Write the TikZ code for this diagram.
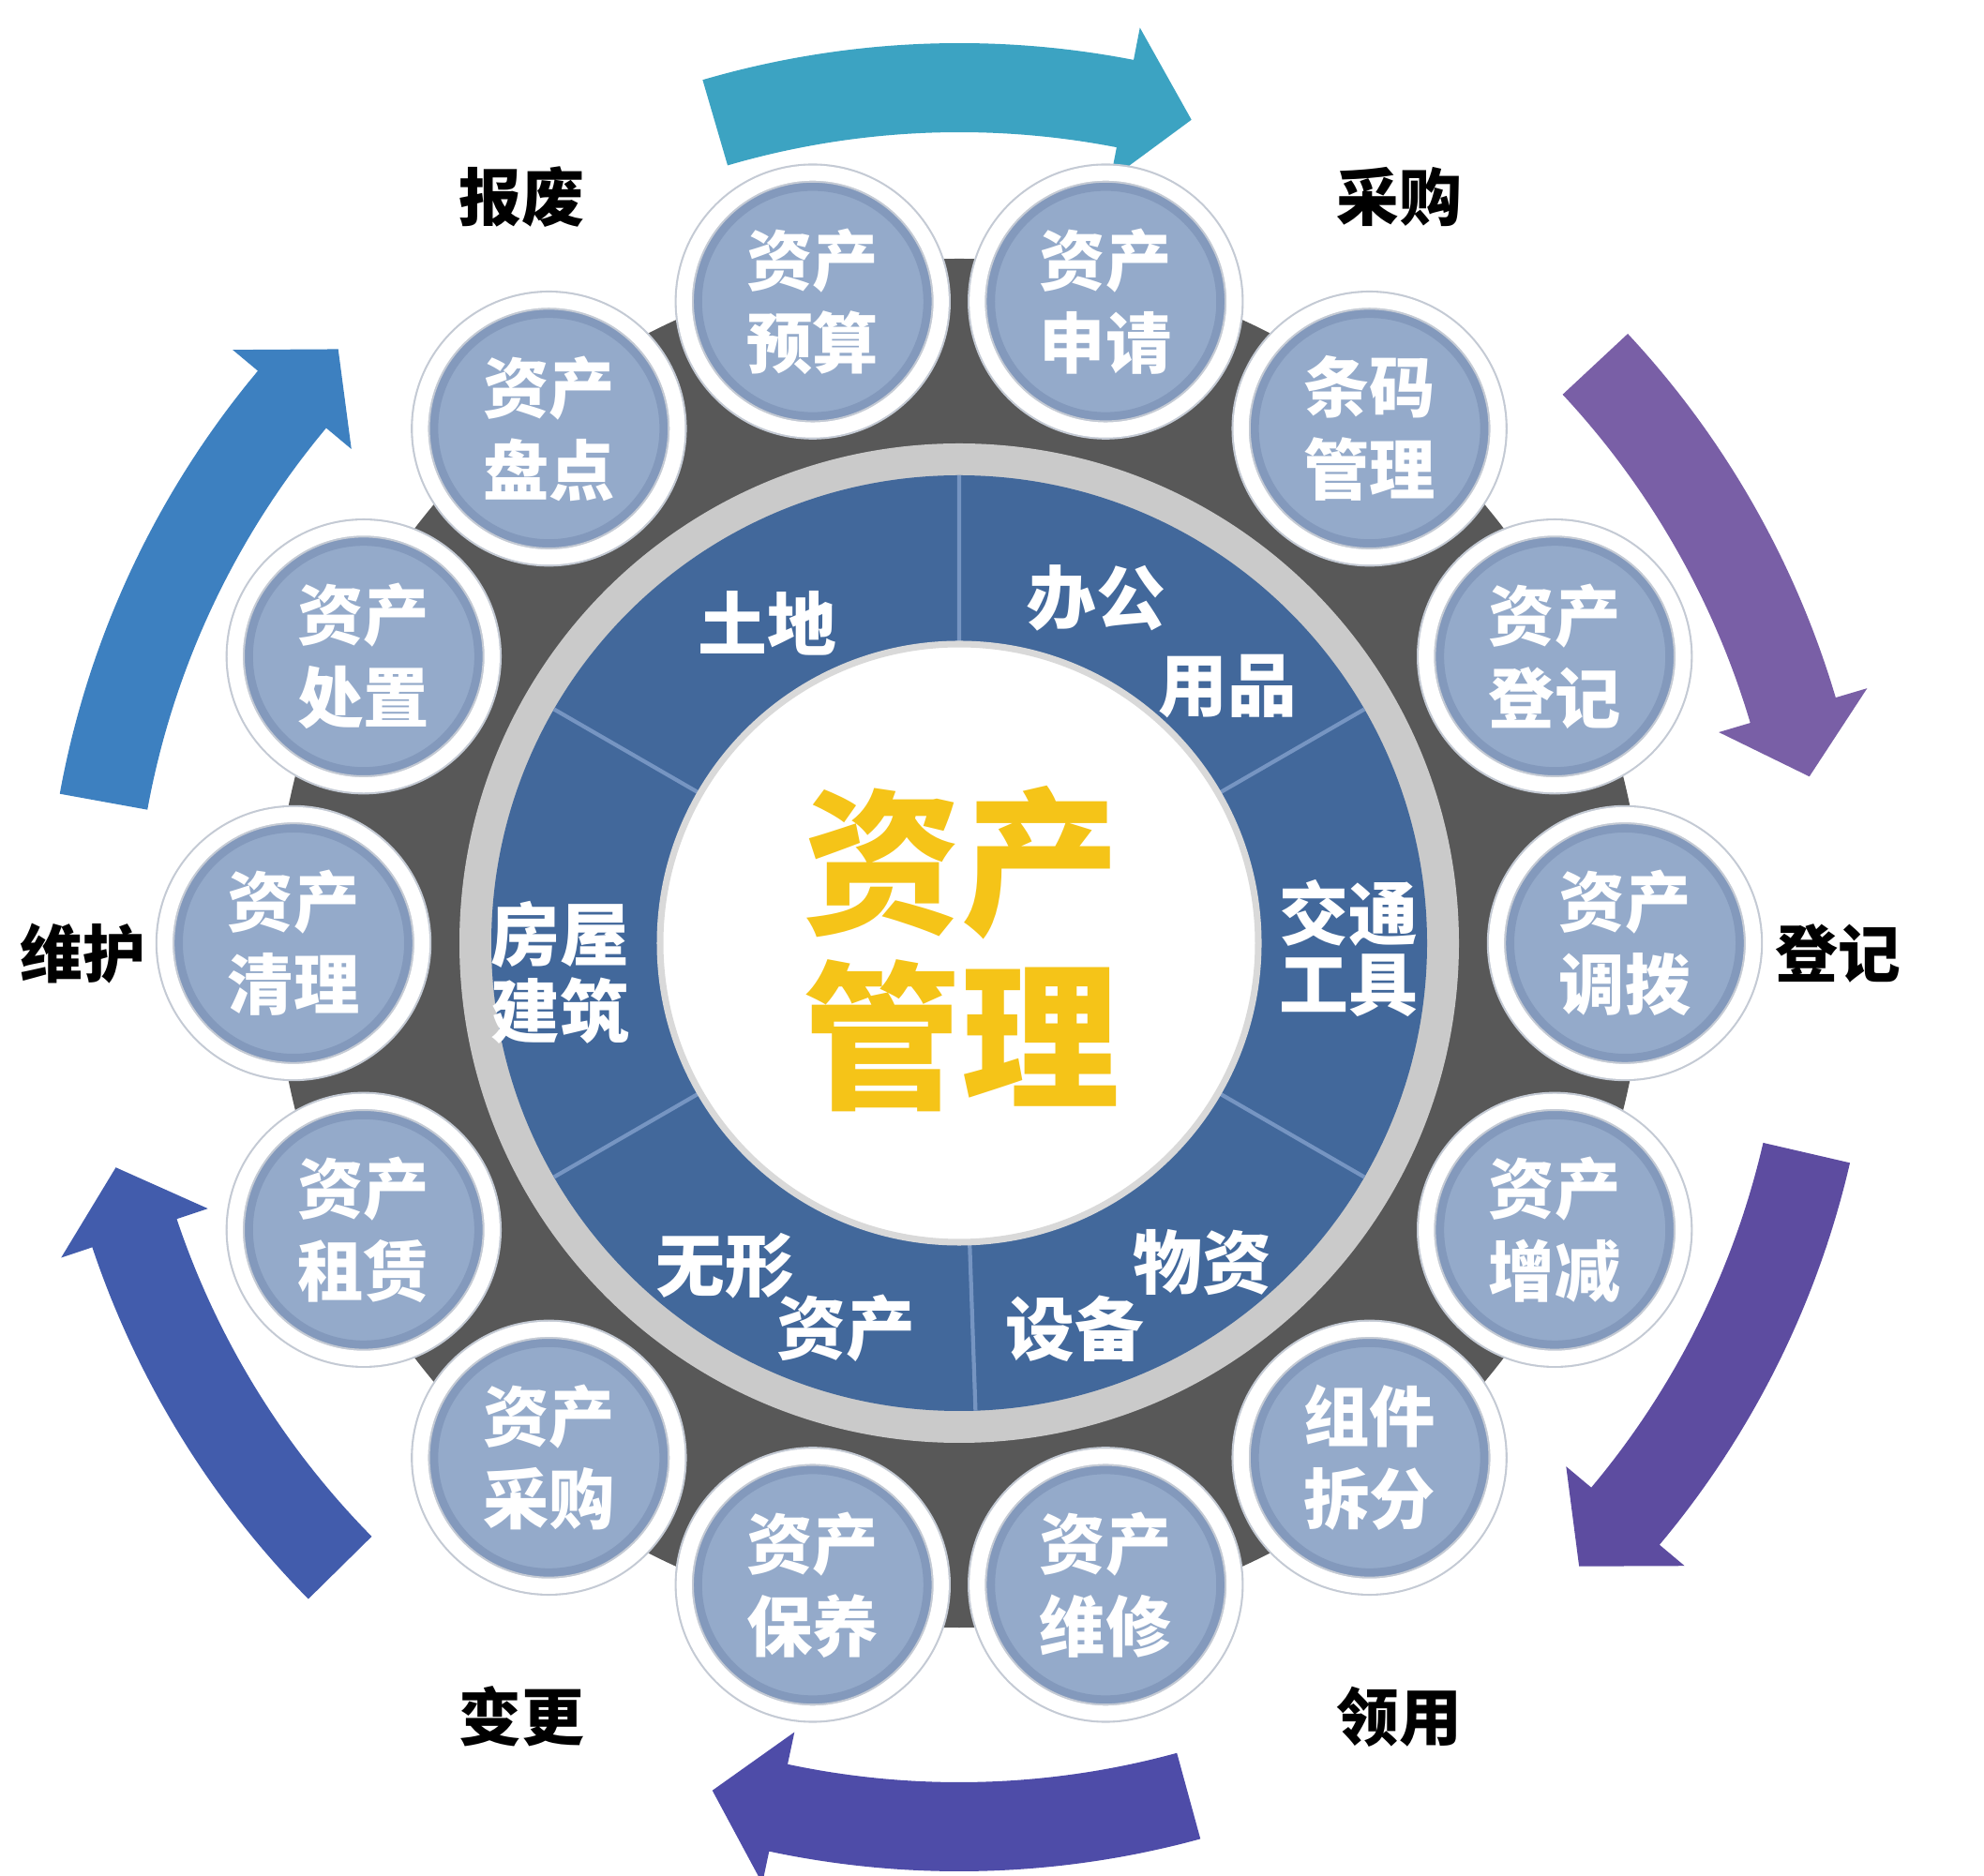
\documentclass[tikz,border=0pt]{standalone}
\usepackage{fontspec}
\setmainfont{Noto Sans CJK SC}
\usepackage{xcolor}
\definecolor{hubgray}{RGB}{88,88,88}
\definecolor{rimgray}{RGB}{202,202,202}
\definecolor{sectorblue}{RGB}{66,104,155}
\definecolor{sectorline}{RGB}{118,149,194}
\definecolor{bubblefill}{RGB}{148,170,202}
\definecolor{bubbleshade}{RGB}{112,134,172}
\definecolor{bubbleedge}{RGB}{196,202,212}
\definecolor{hubyellow}{RGB}{245,196,24}
\definecolor{arrowteal}{RGB}{60,163,194}
\definecolor{arrowviolet}{RGB}{121,95,166}
\definecolor{arrowindigo}{RGB}{93,76,160}
\definecolor{arrownavy}{RGB}{78,76,168}
\definecolor{arrowroyal}{RGB}{66,92,172}
\definecolor{arrowsky}{RGB}{61,128,192}

% band arrow round the hub: colour, tail angle, head angle
\newcommand{\cyclearrow}[3]{%
  \fill[#1] (#2:8.8) arc[start angle=#2, end angle=#3, radius=8.8]
    -- (#3:8.45) -- ({#3-4.5}:9.27) -- (#3:10.1) -- (#3:9.75)
    arc[start angle=#3, end angle=#2, radius=9.75] -- cycle;}

\begin{document}
\begin{tikzpicture}[
    bubble/.style={circle, minimum size=2.74cm, inner sep=0pt, align=center,
        fill=bubblefill, draw=bubbleedge, double=white, double distance=4.6pt,
        line width=0.6pt, text=white, font=\fontsize{20pt}{25pt}\selectfont\bfseries,
        path picture={\draw[bubbleshade, line width=0.2cm, opacity=0.45]
            (path picture bounding box.center) circle (1.28cm);}},
    sector/.style={text=white, font=\fontsize{21pt}{25pt}\selectfont\bfseries},
    stage/.style={text=black, font=\fontsize{19pt}{22pt}\selectfont\bfseries}
]
    \useasboundingbox (0,0) rectangle (21.16,20);
    \fill[white] (0,0) rectangle (21.16,20);

    % Cycle arrows
    \begin{scope}[shift={(10.23,9.79)}]
        \cyclearrow{arrowteal}{106.3}{79}
        \cyclearrow{arrowviolet}{43}{16.5}
        \cyclearrow{arrowindigo}{-13}{-40}
        \cyclearrow{arrownavy}{-74.7}{-102}
        \cyclearrow{arrowroyal}{-135.4}{-161.5}
        \cyclearrow{arrowsky}{169.7}{140.1}
    \end{scope}

    % Hub and sectors
    \begin{scope}[shift={(10.23,9.94)}]
        \fill[hubgray] (0,0) circle (7.3);
        \fill[rimgray] (0,0) circle (5.33);
        \fill[sectorblue] (0,0) circle (4.99);
        \draw[sectorline, line width=1.2pt] (90:3.19) -- (90:4.99) (30:3.19) -- (30:4.99)
            (-30:3.19) -- (-30:4.99) (-88:3.19) -- (-88:4.99)
            (-150:3.19) -- (-150:4.99) (150:3.19) -- (150:4.99);
        \fill[white, draw=black!15, line width=2pt] (0,0) circle (3.19);

        \node[sector] (land) at (-2.05,3.41) {土地};
        \node[sector] (office) at (1.46,3.68) {办公};
        \node[sector] (officeb) at (2.86,2.74) {用品};
        \node[sector] (traffic) at (4.15,0.32) {交通};
        \node[sector] (trafficb) at (4.15,-0.45) {工具};
        \node[sector] (goods) at (2.59,-3.41) {物资};
        \node[sector] (goodsb) at (1.23,-4.11) {设备};
        \node[sector] (intangible) at (-2.50,-3.44) {无形};
        \node[sector] (intangibleb) at (-1.21,-4.11) {资产};
        \node[sector] (house) at (-4.26,0.09) {房屋};
        \node[sector] (houseb) at (-4.26,-0.72) {建筑};

        \node[text=hubyellow, align=center, font=\fontsize{48pt}{53pt}\selectfont\bfseries]
            (hub) at (0.02,-0.06) {资产\\管理};

        % Process bubbles
        \node[bubble] (budget) at (102.86:7.02) {资产\\预算};
        \node[bubble] (apply) at (77.14:7.02) {资产\\申请};
        \node[bubble] (barcode) at (51.43:7.02) {条码\\管理};
        \node[bubble] (register) at (25.71:7.05) {资产\\登记};
        \node[bubble] (transfer) at (0:7.1) {资产\\调拨};
        \node[bubble] (adjust) at (-25.71:7.05) {资产\\增减};
        \node[bubble] (split) at (-51.43:7.02) {组件\\拆分};
        \node[bubble] (repair) at (-77.14:7.02) {资产\\维修};
        \node[bubble] (upkeep) at (-102.86:7.02) {资产\\保养};
        \node[bubble] (purchase) at (-128.57:7.02) {资产\\采购};
        \node[bubble] (lease) at (-154.29:7.05) {资产\\租赁};
        \node[bubble] (cleanup) at (180:7.1) {资产\\清理};
        \node[bubble] (dispose) at (154.29:7.05) {资产\\处置};
        \node[bubble] (inventory) at (128.57:7.02) {资产\\盘点};
    \end{scope}

    % Stage labels
    \node[stage] (scrap) at (5.56,17.90) {报废};
    \node[stage] (buy) at (14.92,17.90) {采购};
    \node[stage] (enroll) at (19.60,9.83) {登记};
    \node[stage] (maintain) at (0.88,9.83) {维护};
    \node[stage] (alter) at (5.56,1.69) {变更};
    \node[stage] (receive) at (14.92,1.69) {领用};
\end{tikzpicture}
\end{document}
